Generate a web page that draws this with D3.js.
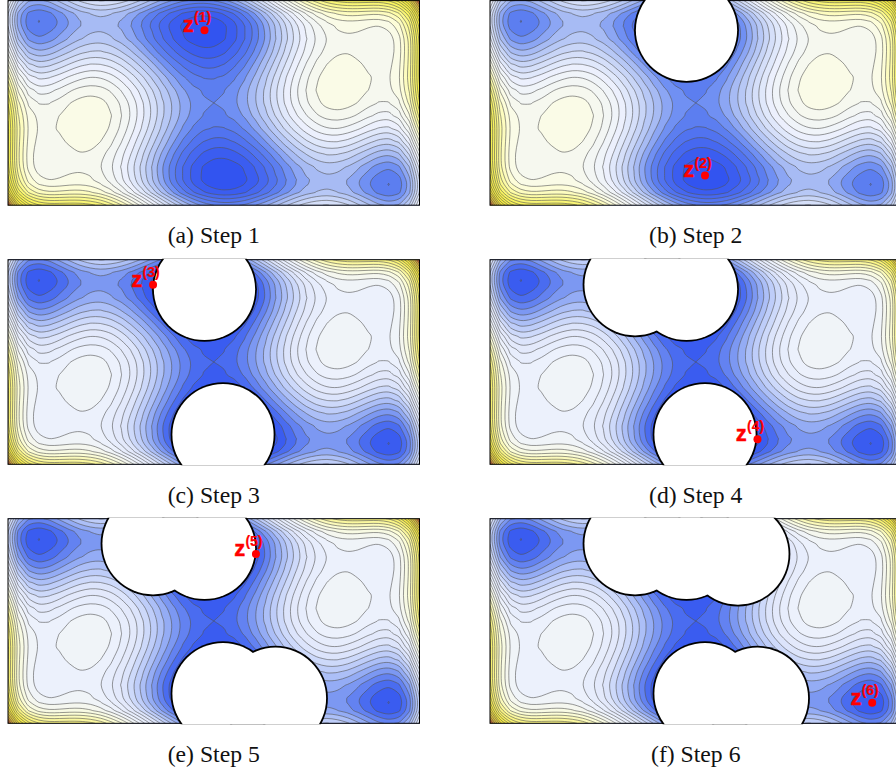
<!DOCTYPE html>
<html>
<head>
<meta charset="utf-8">
<script src="https://cdnjs.cloudflare.com/ajax/libs/d3/7.8.5/d3.min.js"></script>
<style>
  html, body { margin: 0; padding: 0; background: #fff; overflow: hidden; }
  svg { display: block; }
</style>
</head>
<body>
<svg id="chart" width="896" height="769"></svg>
<script>
// Surface heights, top row first
const gridX = [-2, -1.9, -1.8, -1.7, -1.6, -1.5, -1.4, -1.3, -1.2, -1.1, -1, -0.9, -0.8, -0.7, -0.6, -0.5, -0.4, -0.3, -0.2, -0.1, 0, 0.1, 0.2, 0.3, 0.4, 0.5, 0.6, 0.7, 0.8, 0.9, 1, 1.1, 1.2, 1.3, 1.4, 1.5, 1.6, 1.7, 1.8, 1.9, 2];
const gridY = [1, 0.875, 0.8, 0.75, 0.625, 0.5, 0.375, 0.25, 0.125, 0, -0.125, -0.25, -0.375, -0.5, -0.625, -0.75, -0.8, -0.875, -1];
const heights = [
  [1.73,.86,.45,.37,.47,.67,.88,1.07,1.20,1.26,1.23,1.14,.99,.80,.58,.37,.19,.04,-.04,-.06,0,.14,.36,.64,.99,1.37,1.78,2.20,2.59,2.94,3.23,3.46,3.60,3.67,3.68,3.67,3.67,3.77,4.05,4.66,5.73],
  [1.27,.37,-.04,-.14,-.05,.14,.34,.52,.63,.68,.64,.53,.37,.16,-.06,-.28,-.48,-.64,-.74,-.77,-.72,-.59,-.39,-.11,.22,.59,.99,1.39,1.77,2.11,2.39,2.60,2.73,2.79,2.79,2.76,2.75,2.84,3.11,3.70,4.77],
  [1.21,.31,-.11,-.215,-.13,.04,.24,.41,.52,.55,.51,.40,.22,.01,-.22,-.45,-.65,-.82,-.93,-.96,-.92,-.80,-.61,-.34,-.01,.35,.74,1.13,1.50,1.84,2.11,2.31,2.44,2.49,2.48,2.44,2.43,2.51,2.77,3.35,4.41],
  [1.25,.35,-.08,-.19,-.11,.06,.25,.41,.52,.55,.50,.38,.20,-.01,-.25,-.49,-.70,-.87,-.98,-1.02,-.98,-.87,-.68,-.42,-.10,.27,.65,1.04,1.40,1.73,2.00,2.20,2.32,2.36,2.35,2.31,2.29,2.36,2.62,3.20,4.25],
  [1.53,.62,.18,.05,.12,.28,.46,.61,.70,.72,.66,.52,.34,.11,-.14,-.39,-.61,-.80,-.92,-.97,-.95,-.85,-.67,-.42,-.11,.23,.61,.98,1.34,1.65,1.91,2.09,2.20,2.23,2.21,2.15,2.12,2.18,2.43,2.99,4.03],
  [1.98,1.06,.60,.47,.52,.67,.83,.97,1.05,1.06,.98,.84,.64,.40,.13,-.13,-.36,-.56,-.69,-.76,-.75,-.66,-.49,-.26,.04,.37,.73,1.10,1.44,1.74,1.98,2.16,2.25,2.27,2.23,2.17,2.12,2.17,2.40,2.96,3.98],
  [2.50,1.56,1.09,.95,.99,1.12,1.27,1.40,1.47,1.46,1.38,1.22,1.00,.75,.48,.20,-.05,-.25,-.40,-.48,-.48,-.41,-.25,-.03,.26,.58,.93,1.27,1.60,1.89,2.13,2.29,2.37,2.38,2.32,2.25,2.19,2.22,2.44,2.98,4.00],
  [3.00,2.05,1.57,1.41,1.44,1.56,1.70,1.81,1.87,1.85,1.75,1.58,1.35,1.09,.80,.52,.25,.03,-.13,-.22,-.23,-.17,-.03,.18,.45,.77,1.10,1.44,1.75,2.03,2.25,2.40,2.47,2.46,2.40,2.31,2.24,2.26,2.47,3.00,4.00],
  [3.42,2.46,1.97,1.79,1.81,1.92,2.05,2.15,2.19,2.16,2.05,1.86,1.63,1.35,1.05,.75,.48,.24,.07,-.03,-.06,-.01,.12,.32,.58,.87,1.20,1.52,1.83,2.09,2.30,2.43,2.49,2.47,2.40,2.29,2.21,2.22,2.42,2.93,3.92],
  [3.73,2.76,2.25,2.07,2.07,2.17,2.28,2.37,2.40,2.36,2.23,2.04,1.79,1.50,1.18,.87,.59,.34,.16,.04,0,.04,.16,.34,.59,.87,1.18,1.50,1.79,2.04,2.23,2.36,2.40,2.37,2.28,2.17,2.07,2.07,2.25,2.76,3.73],
  [3.92,2.93,2.42,2.22,2.21,2.29,2.40,2.47,2.49,2.43,2.30,2.09,1.83,1.52,1.20,.87,.58,.32,.12,-.01,-.06,-.03,.07,.24,.48,.75,1.05,1.35,1.63,1.86,2.05,2.16,2.19,2.15,2.05,1.92,1.81,1.79,1.97,2.46,3.42],
  [4.00,3.00,2.47,2.26,2.24,2.31,2.40,2.46,2.47,2.40,2.25,2.03,1.75,1.44,1.10,.77,.45,.18,-.03,-.17,-.23,-.22,-.13,.03,.25,.52,.80,1.09,1.35,1.58,1.75,1.85,1.87,1.81,1.70,1.56,1.44,1.41,1.57,2.05,3.00],
  [4.00,2.98,2.44,2.22,2.19,2.25,2.32,2.38,2.37,2.29,2.13,1.89,1.60,1.27,.93,.58,.26,-.03,-.25,-.41,-.48,-.48,-.40,-.25,-.05,.20,.48,.75,1.00,1.22,1.38,1.46,1.47,1.40,1.27,1.12,.99,.95,1.09,1.56,2.50],
  [3.98,2.96,2.40,2.17,2.12,2.17,2.23,2.27,2.25,2.16,1.98,1.74,1.44,1.10,.73,.37,.04,-.26,-.49,-.66,-.75,-.76,-.69,-.56,-.36,-.13,.13,.40,.64,.84,.98,1.06,1.05,.97,.83,.67,.52,.47,.60,1.06,1.98],
  [4.03,2.99,2.43,2.18,2.12,2.15,2.21,2.23,2.20,2.09,1.91,1.65,1.34,.98,.61,.23,-.11,-.42,-.67,-.85,-.95,-.97,-.92,-.80,-.61,-.39,-.14,.11,.34,.52,.66,.72,.70,.61,.46,.28,.12,.05,.18,.62,1.53],
  [4.25,3.20,2.62,2.36,2.29,2.31,2.35,2.36,2.32,2.20,2.00,1.73,1.40,1.04,.65,.27,-.10,-.42,-.68,-.87,-.98,-1.02,-.98,-.87,-.70,-.49,-.25,-.01,.20,.38,.50,.55,.52,.41,.25,.06,-.11,-.19,-.08,.35,1.25],
  [4.41,3.35,2.77,2.51,2.43,2.44,2.48,2.49,2.44,2.31,2.11,1.84,1.50,1.13,.74,.35,-.01,-.34,-.61,-.80,-.92,-.96,-.93,-.82,-.65,-.45,-.22,.01,.22,.40,.51,.55,.52,.41,.24,.04,-.13,-.215,-.11,.31,1.21],
  [4.77,3.70,3.11,2.84,2.75,2.76,2.79,2.79,2.73,2.60,2.39,2.11,1.77,1.39,.99,.59,.22,-.11,-.39,-.59,-.72,-.77,-.74,-.64,-.48,-.28,-.06,.16,.37,.53,.64,.68,.63,.52,.34,.14,-.05,-.14,-.04,.37,1.27],
  [5.73,4.66,4.05,3.77,3.67,3.67,3.68,3.67,3.60,3.46,3.23,2.94,2.59,2.20,1.78,1.37,.99,.64,.36,.14,0,-.06,-.04,.04,.19,.37,.58,.80,.99,1.14,1.23,1.26,1.20,1.07,.88,.67,.47,.37,.45,.86,1.73]
];

const levels = [-0.832, -0.624, -0.416, -0.208, 0, 0.208, 0.416, 0.624, 0.832, 1.04, 1.248, 1.456, 1.664, 1.872, 2.08, 2.288, 2.496, 2.704, 2.912, 3.12, 3.328, 3.536, 3.744, 3.952, 4.16, 4.368, 4.576, 4.784, 4.992, 5.2, 5.408, 5.616];

// Query points, z(1) to z(6)
const pointX = [-0.09, 0.09, -0.59, 0.6, 0.41, 1.715];
const pointY = [0.71, -0.71, 0.755, -0.755, 0.655, -0.8];
const captions = ["(a) Step 1", "(b) Step 2", "(c) Step 3", "(d) Step 4", "(e) Step 5", "(f) Step 6"];
const maskRadius = 0.5;

// Colour stops: first two panels use the wide scale, the others the shifted one
const stopValues = [-1, -0.1, 0.1, 0.5, 1, 1.6, 2.2, 2.5, 3, 3.6, 4.4, 5.2, 5.7];
const coloursWide = ["#2d4ff0", "#5c7ef0", "#7090f3", "#a6baf4", "#cdd9f8", "#eef2fd", "#f6f8ef", "#fdfde3", "#fdfca8", "#f8f460", "#f3ea3a", "#d9b838", "#a82828"];
const coloursShifted = ["#3054f0", "#3a5cf0", "#4a6cf0", "#7a96f2", "#b4c6f8", "#dfe6fb", "#ecf1fc", "#f3f6f5", "#fcfdd8", "#faf688", "#f4ea40", "#d9b838", "#a82828"];

const width = 411.5, height = 204.6;
const lefts = [8, 490], tops = [0.6, 259.7, 518.7], captionBase = [243, 502.5, 761.5];

const svg = d3.select("#chart");
const defs = svg.append("defs");
const contours = d3.contours().size([gridX.length, gridY.length]);
const flatHeights = heights.flat();
const openCurve = d3.line().curve(d3.curveCatmullRom.alpha(0.5));
const closedCurve = d3.line().curve(d3.curveCatmullRomClosed.alpha(0.5));

// Splits a ring into runs off the frame, so only those get smoothed and stroked
function ringRuns(ring, xIdx, yIdx, x0, x1, y0, y1) {
  let pts = ring.map((p) => [xIdx(p[0]), yIdx(p[1])]);
  pts = pts.filter((p, i) => {
    const q = pts[(i + 1) % pts.length];
    return Math.hypot(p[0] - q[0], p[1] - q[1]) > 0.01;
  });
  if (pts.length < 3) return { closed: false, runs: [] };
  const edge = (p) =>
    (Math.abs(p[0] - x0) < 0.01 ? 1 : 0) | (Math.abs(p[0] - x1) < 0.01 ? 2 : 0) |
    (Math.abs(p[1] - y0) < 0.01 ? 4 : 0) | (Math.abs(p[1] - y1) < 0.01 ? 8 : 0);
  const n = pts.length;
  let start = -1;
  for (let i = 0; i < n; i++) {
    if (edge(pts[i]) & edge(pts[(i + 1) % n])) { start = (i + 1) % n; break; }
  }
  if (start < 0) {
    // closed ring: start at a sharp corner if there is one (the saddle)
    const corner = d3.range(n).find((i) => isSharp(pts[(i + n - 1) % n], pts[i], pts[(i + 1) % n]));
    if (corner === undefined) return { closed: true, pts, runs: [] };
    const turned = d3.range(n + 1).map((k) => pts[(corner + k) % n]);
    return { closed: false, runs: [turned] };
  }
  const runs = [];
  let run = [pts[start]];
  for (let k = 1; k < n; k++) {
    const a = pts[(start + k - 1) % n], b = pts[(start + k) % n];
    if (edge(a) & edge(b)) { runs.push(run); run = [b]; }
    else run.push(b);
  }
  runs.push(run);
  return { closed: false, runs };
}

function isSharp(a, b, c) {
  const u = [b[0] - a[0], b[1] - a[1]], v = [c[0] - b[0], c[1] - b[1]];
  const cos = (u[0] * v[0] + u[1] * v[1]) / (Math.hypot(...u) * Math.hypot(...v));
  return cos < 0.45;
}

// Catmull-Rom through a run, but keep the sharp corners
function smoothRun(run) {
  let d = "";
  let piece = [run[0]];
  for (let k = 1; k < run.length; k++) {
    piece.push(run[k]);
    if (k < run.length - 1 && isSharp(run[k - 1], run[k], run[k + 1])) {
      d += d ? "L" + openCurve(piece).slice(1) : openCurve(piece);
      piece = [run[k]];
    }
  }
  d += d ? "L" + openCurve(piece).slice(1) : openCurve(piece);
  return d;
}

captions.forEach((caption, i) => {
  const left = lefts[i % 2], top = tops[Math.floor(i / 2)];
  const x = d3.scaleLinear().domain([-2, 2]).range([left, left + width]);
  const y = d3.scaleLinear().domain([1, -1]).range([top, top + height]);
  const xIdx = d3.scaleLinear().domain(gridX.map((_, k) => k + 0.5)).range(gridX.map(x)).clamp(true);
  const yIdx = d3.scaleLinear().domain(gridY.map((_, k) => k + 0.5)).range(gridY.map(y)).clamp(true);
  const colour = d3.scaleLinear().domain(stopValues).range(i < 2 ? coloursWide : coloursShifted).clamp(true);

  defs.append("clipPath").attr("id", "clip" + i).append("rect")
    .attr("x", left).attr("y", top).attr("width", width).attr("height", height);
  defs.append("clipPath").attr("id", "maskclip" + i).append("rect")
    .attr("x", left - 1).attr("y", top - 1).attr("width", width + 2).attr("height", height + 2);

  const plot = svg.append("g").attr("clip-path", `url(#clip${i})`);
  plot.append("rect").attr("x", left).attr("y", top).attr("width", width).attr("height", height)
    .attr("fill", colour(-0.9));

  const lines = [];
  levels.forEach((level) => {
    const shape = contours.contour(flatHeights, level);
    let fillPath = "";
    let linePath = "";
    shape.coordinates.forEach((polygon) => {
      polygon.forEach((ring) => {
        const r = ringRuns(ring, xIdx, yIdx, left, left + width, top, top + height);
        if (r.closed) {
          const d = closedCurve(r.pts);
          fillPath += d;
          linePath += d;
        } else if (r.runs.length) {
          r.runs.forEach((run, k) => {
            const d = run.length > 1 ? smoothRun(run) : `M${run[0][0]},${run[0][1]}`;
            fillPath += k === 0 ? d : "L" + d.slice(1);
            if (run.length > 1) linePath += d;
          });
          fillPath += "Z";
        }
      });
    });
    plot.append("path").attr("d", fillPath).attr("fill", colour(level + 0.1)).attr("fill-rule", "evenodd");
    lines.push(linePath);
  });
  plot.append("g").selectAll("path").data(lines).enter().append("path")
    .attr("d", (d) => d)
    .attr("fill", "none")
    .attr("stroke", "#555")
    .attr("stroke-opacity", 0.6)
    .attr("stroke-width", 1);

  svg.append("rect").attr("x", left).attr("y", top).attr("width", width).attr("height", height)
    .attr("fill", "none").attr("stroke", "#000").attr("stroke-width", 1);

  // Earlier query points blank out a disc, only the outline of the union stays black
  const earlier = d3.range(i);
  const r = x(maskRadius) - x(0);
  const maskGroup = svg.append("g").attr("clip-path", `url(#maskclip${i})`);
  maskGroup.selectAll("circle.edge").data(earlier).enter().append("circle")
    .attr("class", "edge")
    .attr("cx", (k) => x(pointX[k])).attr("cy", (k) => y(pointY[k])).attr("r", r + 1)
    .attr("fill", "#000");
  maskGroup.selectAll("circle.hole").data(earlier).enter().append("circle")
    .attr("class", "hole")
    .attr("cx", (k) => x(pointX[k])).attr("cy", (k) => y(pointY[k])).attr("r", r - 0.8)
    .attr("fill", "#fff");

  const px = x(pointX[i]), py = y(pointY[i]);
  svg.append("circle").attr("cx", px).attr("cy", py).attr("r", 4).attr("fill", "#ff0000");
  svg.append("text").attr("x", px - 21.8).attr("y", py + 1.8)
    .attr("font-family", "Liberation Sans").attr("font-weight", "bold").attr("font-size", 22)
    .attr("fill", "#ff0000").attr("stroke", "#ff0000").attr("stroke-width", 0.4).text("z");
  svg.append("text").attr("x", px - 10.5).attr("y", py - 8)
    .attr("font-family", "Liberation Sans").attr("font-weight", "bold").attr("font-size", 14)
    .attr("fill", "#ff0000").attr("stroke", "#ff0000").attr("stroke-width", 0.2).text(`(${i + 1})`);

  svg.append("text").attr("x", left + width / 2).attr("y", captionBase[Math.floor(i / 2)])
    .attr("text-anchor", "middle")
    .attr("font-family", "Liberation Serif").attr("font-size", 23.7)
    .attr("fill", "#111").text(caption);
});
</script>
</body>
</html>
